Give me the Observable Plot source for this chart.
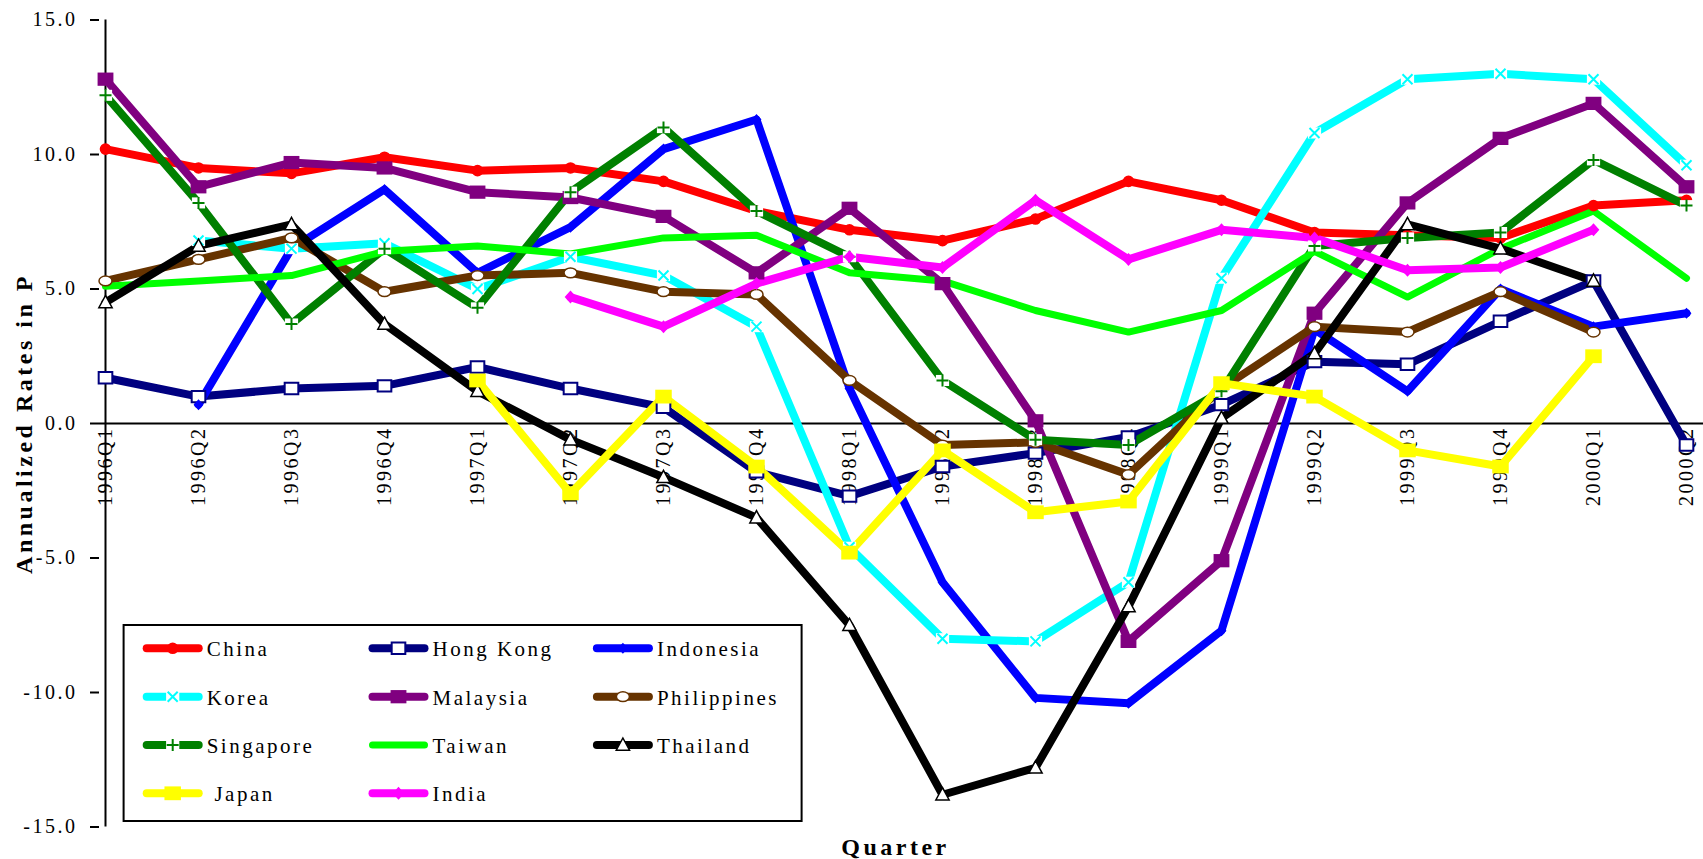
<!DOCTYPE html>
<html><head><meta charset="utf-8">
<script src="https://cdn.jsdelivr.net/npm/d3@7"></script>
<script src="https://cdn.jsdelivr.net/npm/@observablehq/plot@0.6"></script>
<style>
body{margin:0;background:#fff;}
#wrap{position:relative;width:1703px;height:859px;background:#fff;}
</style></head><body><div id="wrap"></div>
<script>
const quarters = ["1996Q1","1996Q2","1996Q3","1996Q4","1997Q1","1997Q2","1997Q3","1997Q4","1998Q1","1998Q2","1998Q3","1998Q4","1999Q1","1999Q2","1999Q3","1999Q4","2000Q1","2000Q2"];
const yTicks = [-15, -10, -5, 0, 5, 10, 15];

const china       = [10.2, 9.5, 9.3, 9.9, 9.4, 9.5, 9.0, 7.9, 7.2, 6.8, 7.6, 9.0, 8.3, 7.1, 7.0, 6.9, 8.1, 8.3];
const hongKong    = [1.7, 1.0, 1.3, 1.4, 2.1, 1.3, 0.6, -1.8, -2.7, -1.6, -1.1, -0.5, 0.7, 2.3, 2.2, 3.8, 5.3, -0.8];
const indonesia   = [null, 0.7, 6.5, 8.7, 5.6, 7.3, 10.2, 11.3, 1.3, -5.9, -10.2, -10.4, -7.7, 3.5, 1.2, 5.0, 3.6, 4.1];
const korea       = [null, 6.8, 6.5, 6.7, 5.0, 6.2, 5.5, 3.6, -4.6, -8.0, -8.1, -5.9, 5.4, 10.8, 12.8, 13.0, 12.8, 9.6];
const malaysia    = [12.8, 8.8, 9.7, 9.5, 8.6, 8.4, 7.7, 5.6, 8.0, 5.2, 0.1, -8.1, -5.1, 4.1, 8.2, 10.6, 11.9, 8.8];
const philippines = [5.3, 6.1, 6.9, 4.9, 5.5, 5.6, 4.9, 4.8, 1.6, -0.8, -0.7, -1.9, 1.3, 3.6, 3.4, 4.9, 3.4, null];
const singapore   = [12.2, 8.2, 3.7, 6.5, 4.3, 8.6, 11.0, 7.9, 6.2, 1.6, -0.6, -0.8, 1.2, 6.6, 6.9, 7.1, 9.8, 8.1];
const taiwan      = [5.1, 5.3, 5.5, 6.4, 6.6, 6.3, 6.9, 7.0, 5.6, 5.3, 4.2, 3.4, 4.2, 6.4, 4.7, 6.5, 7.9, 5.4];
const thailand    = [4.5, 6.6, 7.4, 3.7, 1.2, -0.6, -2.0, -3.5, -7.5, -13.8, -12.8, -6.8, 0.2, 2.6, 7.4, 6.5, 5.3, null];
const japan       = [null, null, null, null, 1.6, -2.6, 1.0, -1.6, -4.8, -1.0, -3.3, -2.9, 1.5, 1.0, -1.0, -1.6, 2.5, null];
const india       = [null, null, null, null, null, 4.7, 3.6, 5.2, 6.2, 5.8, 8.3, 6.1, 7.2, 6.9, 5.7, 5.8, 7.2, null];

const FONT = "'Liberation Serif','Times New Roman',serif";

// custom symbols: r = half-size
const R = s => Math.sqrt(s / Math.PI);
const sym = {
  circle: {draw(c, s){const r=R(s); c.moveTo(r,0); c.arc(0,0,r,0,2*Math.PI); c.closePath();}},
  square: {draw(c, s){const r=R(s); c.moveTo(-r*1.1,-r*0.92); c.lineTo(r*1.1,-r*0.92); c.lineTo(r*1.1,r*0.92); c.lineTo(-r*1.1,r*0.92); c.closePath();}},
  diamond: {draw(c, s){const r=R(s), w=r*0.9; c.moveTo(0,-r); c.lineTo(w,0); c.lineTo(0,r); c.lineTo(-w,0); c.closePath();}},
  times: {draw(c, s){const r=R(s); c.moveTo(-r,-r); c.lineTo(r,r); c.moveTo(r,-r); c.lineTo(-r,r);}},
  plus: {draw(c, s){const r=R(s); c.moveTo(-r,0); c.lineTo(r,0); c.moveTo(0,-r); c.lineTo(0,r);}},
  ellipse: {draw(c, s){const rx=R(s), ry=rx*0.75, k=0.5523;
    c.moveTo(rx,0); c.bezierCurveTo(rx,ry*k,rx*k,ry,0,ry); c.bezierCurveTo(-rx*k,ry,-rx,ry*k,-rx,0);
    c.bezierCurveTo(-rx,-ry*k,-rx*k,-ry,0,-ry); c.bezierCurveTo(rx*k,-ry,rx,-ry*k,rx,0); c.closePath();}},
  triangle: {draw(c, s){const r=R(s); c.moveTo(0,-r); c.lineTo(r*0.95,r*0.75); c.lineTo(-r*0.95,r*0.75); c.closePath();}}
};

const series = [
  {name:"China", values:china, color:"#ff0000", markers:[{symbol:"circle", r:5.8, fill:"#ff0000"}]},
  {name:"Hong Kong", values:hongKong, color:"#000080", markers:[{symbol:"square", r:6.2, fill:"#fff", stroke:"#000080", sw:2}]},
  {name:"Indonesia", values:indonesia, color:"#0000ff", markers:[{symbol:"diamond", r:5.5, fill:"#0000ff"}]},
  {name:"Korea", values:korea, color:"#00ffff", markers:[{symbol:"square", r:6, fill:"#fff"},{symbol:"times", r:5, fill:"none", stroke:"#00ffff", sw:2}]},
  {name:"Malaysia", values:malaysia, color:"#800080", markers:[{symbol:"square", r:7.2, fill:"#800080"}]},
  {name:"Philippines", values:philippines, color:"#663300", markers:[{symbol:"ellipse", r:6.5, fill:"#fff", stroke:"#663300", sw:1.5}]},
  {name:"Singapore", values:singapore, color:"#008000", markers:[{symbol:"square", r:6, fill:"#fff"},{symbol:"plus", r:6, fill:"none", stroke:"#008000", sw:2}]},
  {name:"Taiwan", values:taiwan, color:"#00ff00", width:7, markers:[]},
  {name:"Thailand", values:thailand, color:"#000000", markers:[{symbol:"triangle", r:7, fill:"#fff", stroke:"#000", sw:1.5}]},
  {name:"Japan", label:" Japan", values:japan, color:"#ffff00", markers:[{symbol:"square", r:7.5, fill:"#ffff00"}]},
  {name:"India", values:india, color:"#ff00ff", markers:[{symbol:"diamond", r:6.5, fill:"#ff00ff"}]}
];

const tables = series.map(s => quarters.map((q, i) => ({country: s.name, quarter: q, value: s.values[i]})));

const marks = [];
// x tick labels hanging below the zero line
marks.push(Plot.text(quarters, {x: d => d, y: () => 0, text: d => d, rotate: -90, textAnchor: "end", lineAnchor: "middle", dy: 3, fontSize: 20, fontFamily: FONT, fill: "black"}));
marks.push(Plot.axisY({ticks: yTicks, tickFormat: d => d.toFixed(1), tickSize: 9, tickPadding: 13, fontSize: 20, fontFamily: FONT, stroke: "black", strokeWidth: 2, label: null}));
marks.push(Plot.ruleY([0], {stroke: "black", strokeWidth: 2, insetRight: -12}));
marks.push(Plot.ruleX([quarters[0]], {y1: yTicks[0], y2: yTicks[yTicks.length - 1], stroke: "black", strokeWidth: 2}));
series.forEach((s, k) => {
  marks.push(Plot.line(tables[k], {x: "quarter", y: "value", stroke: s.color, strokeWidth: s.width || 8, strokeLinecap: "round", strokeLinejoin: "round"}));
});
series.forEach((s, k) => {
  s.markers.forEach(m => {
    marks.push(Plot.dot(tables[k], {filter: d => d.value != null, x: "quarter", y: "value", symbol: sym[m.symbol], r: m.r, fill: m.fill, stroke: m.stroke || "none", strokeWidth: m.sw || 0}));
  });
});
marks.push(Plot.text(["Quarter"], {frameAnchor: "bottom", dy: 20, textAnchor: "middle", lineAnchor: "middle", fontSize: 24, fontWeight: "bold", fontFamily: FONT, fill: "black"}));
marks.push(Plot.text(["Annualized Rates in P"], {frameAnchor: "left", dx: -75, rotate: -90, textAnchor: "middle", lineAnchor: "middle", fontSize: 24, fontWeight: "bold", fontFamily: FONT, fill: "black"}));

const chart = Plot.plot({
  width: 1703, height: 859,
  marginLeft: 99, marginRight: 12, marginTop: 19.5, marginBottom: 32.5,
  style: {background: "#fff", color: "black", fontFamily: FONT, overflow: "visible"},
  x: {type: "point", domain: quarters, padding: 0, axis: null},
  y: {domain: [yTicks[0], yTicks[yTicks.length - 1]], axis: null},
  marks
});

const svg = d3.select(chart);
svg.selectAll("text").style("letter-spacing", "2.5px");
svg.selectAll("text").filter(function(){ return this.getAttribute("font-weight") === "bold" || this.parentNode.getAttribute("font-weight") === "bold"; }).style("letter-spacing", "3.5px");

// legend box (inside plot area)
const lg = svg.append("g").attr("text-anchor", "start");
lg.append("rect").attr("x", 123.6).attr("y", 625).attr("width", 678).attr("height", 196)
  .attr("fill", "#fff").attr("stroke", "black").attr("stroke-width", 2);
const colX = [142.7, 368.5, 592.9];
const rowY = [648.3, 696.7, 745, 793.3];
series.forEach((s, i) => {
  const cx = colX[i % 3], cy = rowY[Math.floor(i / 3)];
  const g = lg.append("g");
  g.append("line").attr("x1", cx + 4).attr("x2", cx + 56).attr("y1", cy).attr("y2", cy)
    .attr("stroke", s.color).attr("stroke-width", s.width || 8).attr("stroke-linecap", "round");
  s.markers.forEach(m => {
    g.append("path").attr("transform", `translate(${cx + 30},${cy})`)
      .attr("d", d3.symbol(sym[m.symbol], Math.PI * m.r * m.r)())
      .attr("fill", m.fill).attr("stroke", m.stroke || "none").attr("stroke-width", m.sw || 0);
  });
  g.append("text").attr("x", cx + 64).attr("y", cy + 8).attr("font-size", 21).attr("font-family", FONT)
    .attr("text-anchor", "start")
    .style("letter-spacing", "2.5px").style("white-space", "pre").attr("fill", "black").text(s.label || s.name);
});

document.getElementById("wrap").appendChild(chart);
</script></body></html>
